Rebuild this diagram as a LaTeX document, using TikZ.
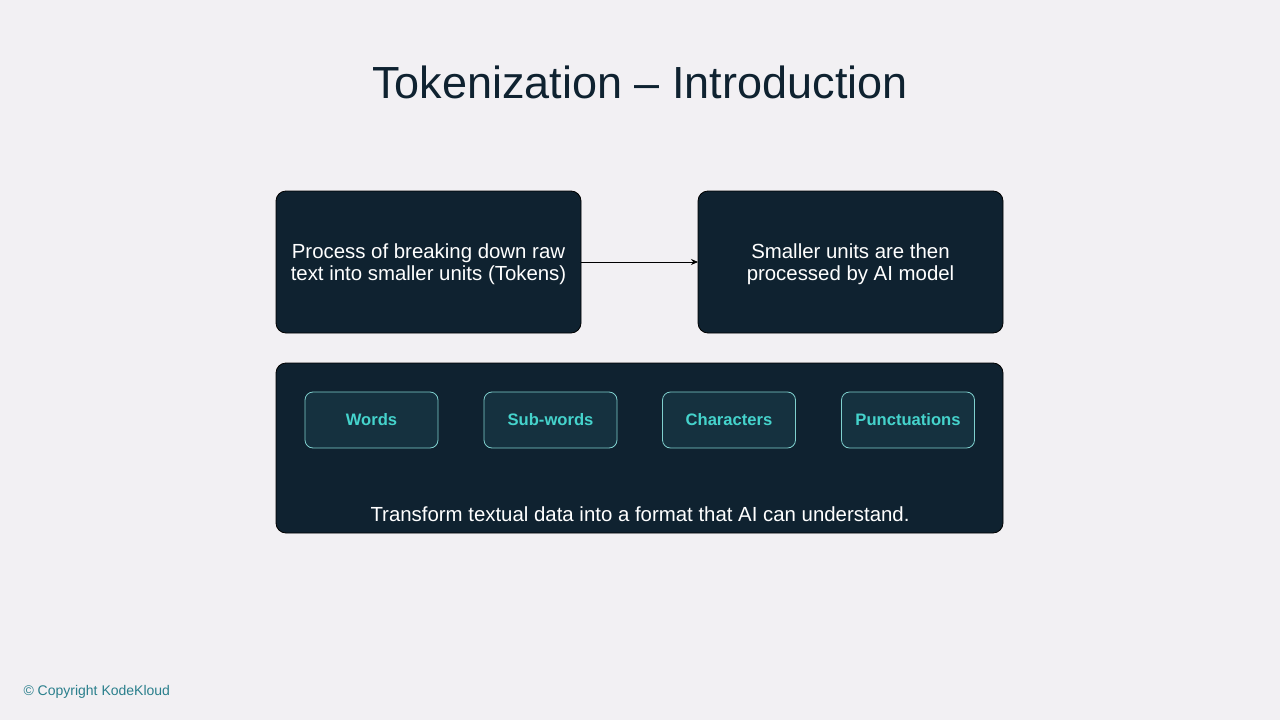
\documentclass[tikz,border=0pt]{standalone}
\usepackage{fontspec}
\setmainfont{Liberation Sans}
\usetikzlibrary{arrows.meta}
\definecolor{bg}{HTML}{F2F0F3}
\definecolor{dark}{HTML}{0F2230}
\definecolor{teal}{HTML}{45D3CC}
\definecolor{tokfill}{HTML}{15313F}
\definecolor{tokline}{HTML}{7FD0CE}
\definecolor{copy}{HTML}{2A7F8C}
\tikzset{
  bigbox/.style={fill=dark,draw=black,rounded corners=10pt,line width=0.8pt},
  tok/.style={fill=tokfill,draw=tokline,line width=0.8pt,rounded corners=8pt,minimum width=133pt,minimum height=56pt,text=teal,font=\fontsize{16.6}{19}\selectfont\bfseries},
  body/.style={text=white,align=center,font=\fontsize{20.4}{22.5}\selectfont}
}
\begin{document}
\begin{tikzpicture}[x=1pt,y=-1pt]
\fill[bg] (0,0) rectangle (1280,720);
\useasboundingbox (0,0) rectangle (1280,720);
\node[text=dark,font=\fontsize{45}{50}\selectfont] (title) at (640,82) {Tokenization – Introduction};
\draw[bigbox] (276,191) rectangle (581,333);
\node[body] (left) at (428.5,264) {Process of breaking down raw\\text into smaller units (Tokens)};
\draw[bigbox] (698,191) rectangle (1003,333);
\node[body] (right) at (850.5,264) {Smaller units are then\\processed by AI model};
\coordinate (la) at (581,262);
\coordinate (ra) at (698,262);
\draw[-{Stealth[length=7pt,width=6pt]},line width=0.8pt,black] (la) -- (ra);
\draw[bigbox] (276,363) rectangle (1003,533);
\node[tok] (w) at (371.5,420) {Words};
\node[tok] (s) at (550.5,420) {Sub-words};
\node[tok] (c) at (729,420) {Characters};
\node[tok] (p) at (908,420) {Punctuations};
\node[body] (bottom) at (640,514) {Transform textual data into a format that AI can understand.};
\node[anchor=west,text=copy,font=\fontsize{14}{16}\selectfont] (cr) at (20,692) {© Copyright KodeKloud};
\end{tikzpicture}
\end{document}
